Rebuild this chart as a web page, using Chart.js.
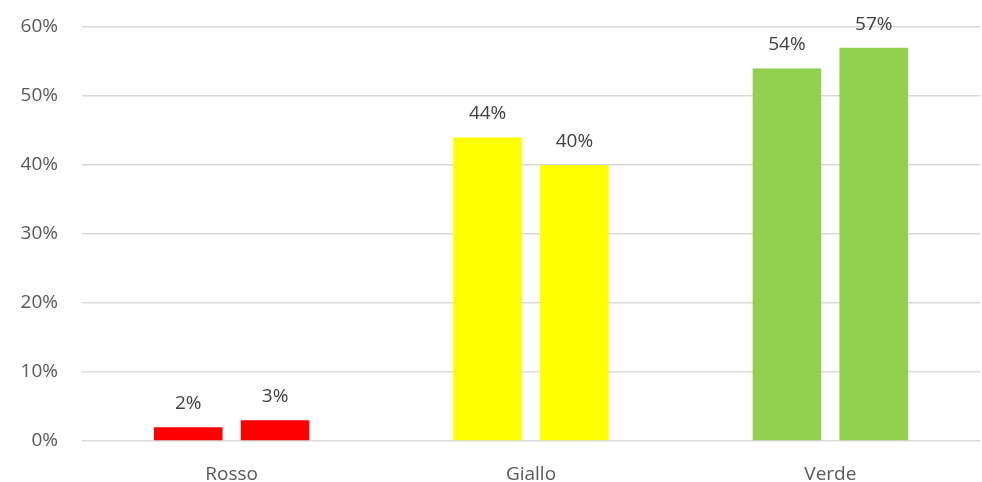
<!DOCTYPE html>
<html>
<head>
<meta charset="utf-8">
<script src="https://cdn.jsdelivr.net/npm/chart.js@4"></script>
<style>
  html, body { margin: 0; padding: 0; background: #fff; }
  #wrap { width: 982px; height: 482px; position: relative; }
</style>
</head>
<body>
<div id="wrap"><canvas id="chart"></canvas></div>
<script>
const categories = ['Rosso', 'Giallo', 'Verde'];
const serieA = [2, 44, 54];
const serieB = [3, 40, 57];
const barColors = ['#FF0000', '#FFFF00', '#92D050'];
const yTicks = [0, 10, 20, 30, 40, 50, 60];

const valueLabels = {
  id: 'valueLabels',
  afterDatasetsDraw(chart) {
    const ctx = chart.ctx;
    ctx.save();
    ctx.font = '19px "Open Sans", sans-serif';
    ctx.fillStyle = '#404040';
    ctx.textAlign = 'center';
    ctx.textBaseline = 'bottom';
    chart.data.datasets.forEach((ds, i) => {
      chart.getDatasetMeta(i).data.forEach((bar, j) => {
        ctx.fillText(ds.data[j] + '%', bar.x, bar.y - 14);
      });
    });
    ctx.restore();
  }
};

new Chart(document.getElementById('chart').getContext('2d'), {
  type: 'bar',
  data: {
    labels: categories,
    datasets: [
      { label: 'A', data: serieA, backgroundColor: barColors },
      { label: 'B', data: serieB, backgroundColor: barColors },
    ],
  },
  options: {
    responsive: true,
    maintainAspectRatio: false,
    animation: false,
    categoryPercentage: 0.58,
    barPercentage: 0.79,
    layout: { padding: { top: 27, right: 2, left: 0, bottom: 0 } },
    plugins: { legend: { display: false }, tooltip: { enabled: false } },
    scales: {
      x: {
        grid: { display: false },
        border: { display: false },
        ticks: { color: '#595959', font: { family: '"Open Sans", sans-serif', size: 19 }, padding: 14 },
        afterFit: (s) => { s.height = 41; s.paddingLeft = 0; s.paddingRight = 0; },
      },
      y: {
        min: 0,
        max: 60,
        afterBuildTicks: (s) => { s.ticks = yTicks.map(v => ({ value: v })); },
        grid: { color: '#D9D9D9', lineWidth: 1.5, drawTicks: false },
        border: { display: false },
        ticks: {
          color: '#595959',
          font: { family: '"Open Sans", sans-serif', size: 19 },
          padding: 24,
          callback: (v) => v + '%',
        },
        afterFit: (s) => { s.width = 82; s.paddingTop = 0; s.paddingBottom = 0; },
      },
    },
  },
  plugins: [valueLabels],
});
</script>
</body>
</html>
